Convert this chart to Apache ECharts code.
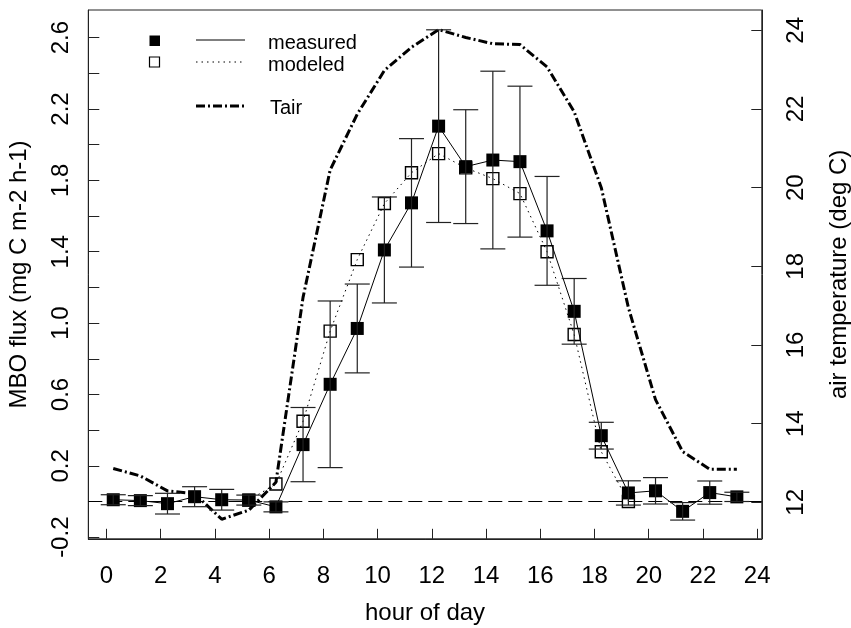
<!DOCTYPE html>
<html>
<head>
<meta charset="utf-8">
<title>MBO flux and air temperature</title>
<script src="https://cdn.jsdelivr.net/npm/echarts@6/dist/echarts.min.js"></script>
<style>
  html, body { margin: 0; padding: 0; background: #fff; }
  #chart { width: 851px; height: 628px; }
</style>
</head>
<body>
<div id="chart"></div>
<script>
// Half-hourly centred hours of the diel cycle
const hours = [0.25, 1.25, 2.25, 3.25, 4.25, 5.25, 6.25, 7.25, 8.25, 9.25, 10.25, 11.25,
               12.25, 13.25, 14.25, 15.25, 16.25, 17.25, 18.25, 19.25, 20.25, 21.25, 22.25, 23.25];

// Measured MBO flux (mg C m-2 h-1) and its standard deviation
const measured = [0.010, 0.005, -0.012, 0.027, 0.010, 0.008, -0.030, 0.319, 0.657, 0.970, 1.410, 1.674,
                  2.104, 1.877, 1.914, 1.905, 1.517, 1.066, 0.369, 0.048, 0.060, -0.055, 0.050, 0.026];
const measuredSd = [0.028, 0.028, 0.058, 0.056, 0.058, 0.028, 0.028, 0.208, 0.467, 0.249, 0.297, 0.360,
                    0.540, 0.319, 0.498, 0.423, 0.305, 0.184, 0.075, 0.068, 0.074, 0.049, 0.065, 0.026];

// Modeled MBO flux (daylight hours only)
const modeled = [null, null, null, null, null, 0.008, 0.098, 0.450, 0.955, 1.356, 1.670, 1.843,
                 1.950, 1.870, 1.810, 1.726, 1.400, 0.936, 0.279, 0.000, null, null, null, null];

// Air temperature (deg C)
const tair = [12.86, 12.67, 12.29, 12.22, 11.57, 11.80, 12.51, 17.21, 20.45, 21.87, 22.98, 23.57,
              24.02, 23.82, 23.66, 23.64, 23.07, 21.93, 20.00, 16.95, 14.61, 13.29, 12.84, 12.84];

// Axis ticks and labels
const hourTicks = [0, 2, 4, 6, 8, 10, 12, 14, 16, 18, 20, 22, 24];
const fluxTicks = [-0.2, 0, 0.2, 0.4, 0.6, 0.8, 1.0, 1.2, 1.4, 1.6, 1.8, 2.0, 2.2, 2.4, 2.6];
const fluxLabels = [-0.2, 0.2, 0.6, 1.0, 1.4, 1.8, 2.2, 2.6];
const tempTicks = [12, 14, 16, 18, 20, 22, 24];

const legendNames = ['measured', 'modeled', 'Tair'];

const FONT = 'Liberation Sans, Arial, Helvetica, sans-serif';
const INK = '#000';
const FRAME = '#222';

const chart = echarts.init(document.getElementById('chart'), null, { renderer: 'canvas' });

const errorData = hours.map((h, i) => [h, measured[i] - measuredSd[i], measured[i] + measuredSd[i]]);

function renderErrorBar(params, api) {
  const x = api.value(0);
  const lo = api.coord([x, api.value(1)]);
  const hi = api.coord([x, api.value(2)]);
  const half = 12.5;
  const style = { stroke: '#222', lineWidth: 1.2 };
  return {
    type: 'group',
    children: [
      { type: 'line', shape: { x1: hi[0], y1: hi[1], x2: lo[0], y2: lo[1] }, style },
      { type: 'line', shape: { x1: hi[0] - half, y1: hi[1], x2: hi[0] + half, y2: hi[1] }, style },
      { type: 'line', shape: { x1: lo[0] - half, y1: lo[1], x2: lo[0] + half, y2: lo[1] }, style }
    ]
  };
}

const option = {
  animation: false,
  backgroundColor: '#fff',
  textStyle: { fontFamily: FONT, color: INK },
  grid: {
    left: 88.3, right: 89.2, top: 10, bottom: 89.2,
    outerBoundsMode: 'none',
    containLabel: false,
    show: true, borderColor: FRAME, borderWidth: 1, backgroundColor: 'transparent'
  },
  xAxis: {
    type: 'value',
    min: -0.67, max: 24.17,
    name: 'hour of day',
    nameLocation: 'middle',
    nameGap: 63,
    nameTextStyle: { fontSize: 24, fontFamily: FONT, color: INK },
    axisLine: { show: true, onZero: false, lineStyle: { color: FRAME, width: 1 } },
    axisTick: { show: true, inside: true, length: 10, customValues: hourTicks, lineStyle: { color: FRAME, width: 1 } },
    axisLabel: { show: true, customValues: hourTicks, fontSize: 24, margin: 26, color: INK, fontFamily: FONT },
    splitLine: { show: false }
  },
  yAxis: [
    {
      type: 'value',
      position: 'left',
      min: -0.209, max: 2.755,
      name: 'MBO flux (mg C m-2 h-1)',
      nameLocation: 'middle',
      nameRotate: 90,
      nameGap: 57,
      nameTextStyle: { fontSize: 24, fontFamily: FONT, color: INK },
      axisLine: { show: true, onZero: false, lineStyle: { color: FRAME, width: 1 } },
      axisTick: { show: true, inside: true, length: 11, customValues: fluxTicks, lineStyle: { color: FRAME, width: 1 } },
      axisLabel: {
        show: true, customValues: fluxLabels, rotate: 90, fontSize: 24, margin: 15,
        color: INK, fontFamily: FONT,
        formatter: v => Number(v).toFixed(1)
      },
      splitLine: { show: false }
    },
    {
      type: 'value',
      position: 'right',
      min: 11.072, max: 24.518,
      name: 'air temperature (deg C)',
      nameLocation: 'middle',
      nameRotate: 90,
      nameGap: 66,
      nameTextStyle: { fontSize: 24, fontFamily: FONT, color: INK },
      axisLine: { show: true, onZero: false, lineStyle: { color: FRAME, width: 1 } },
      axisTick: { show: true, inside: true, length: 10.5, customValues: tempTicks, lineStyle: { color: FRAME, width: 1 } },
      axisLabel: {
        show: true, customValues: tempTicks, rotate: 90, fontSize: 24, margin: 23,
        color: INK, fontFamily: FONT
      },
      splitLine: { show: false }
    }
  ],
  series: [
    {
      name: 'Tair',
      type: 'line',
      yAxisIndex: 1,
      data: hours.map((h, i) => [h, tair[i]]),
      symbol: 'none',
      lineStyle: { color: INK, width: 3, type: [9, 3, 2, 3] },
      z: 2
    },
    {
      name: 'modeled',
      type: 'line',
      data: hours.map((h, i) => [h, modeled[i]]),
      symbol: 'rect',
      symbolSize: 12,
      itemStyle: { color: 'rgba(0,0,0,0)', borderColor: INK, borderWidth: 1.4 },
      lineStyle: { color: INK, width: 1, type: [1.5, 4] },
      connectNulls: false,
      z: 3
    },
    {
      name: 'measured',
      type: 'line',
      data: hours.map((h, i) => [h, measured[i]]),
      symbol: 'rect',
      symbolSize: 13,
      itemStyle: { color: INK },
      lineStyle: { color: INK, width: 1 },
      markLine: {
        silent: true,
        symbol: 'none',
        label: { show: false },
        lineStyle: { color: INK, width: 1, type: [14, 6] },
        data: [{ yAxis: 0 }],
        z: 1
      },
      z: 4
    },
    {
      name: 'sd',
      type: 'custom',
      data: errorData,
      renderItem: renderErrorBar,
      encode: { x: 0, y: [1, 2] },
      z: 5
    }
  ],
  graphic: [
    { type: 'rect', shape: { x: 149.5, y: 35.5, width: 10.5, height: 10.5 }, style: { fill: INK } },
    { type: 'rect', shape: { x: 149.5, y: 57, width: 10, height: 10 }, style: { fill: 'none', stroke: INK, lineWidth: 1.2 } },
    { type: 'line', shape: { x1: 196, y1: 40, x2: 245, y2: 40 }, style: { stroke: INK, lineWidth: 1 } },
    { type: 'line', shape: { x1: 196, y1: 62, x2: 245, y2: 62 }, style: { stroke: INK, lineWidth: 1, lineDash: [1.5, 4] } },
    { type: 'line', shape: { x1: 196, y1: 106, x2: 246, y2: 106 }, style: { stroke: INK, lineWidth: 3, lineDash: [9, 3, 2, 3] } },
    { type: 'text', x: 268, y: 43, style: { text: legendNames[0], font: '20px ' + FONT, fill: INK, verticalAlign: 'middle' } },
    { type: 'text', x: 268, y: 65.5, style: { text: legendNames[1], font: '20px ' + FONT, fill: INK, verticalAlign: 'middle' } },
    { type: 'text', x: 270, y: 108, style: { text: legendNames[2], font: '20px ' + FONT, fill: INK, verticalAlign: 'middle' } }
  ]
};

chart.setOption(option);
</script>
</body>
</html>
